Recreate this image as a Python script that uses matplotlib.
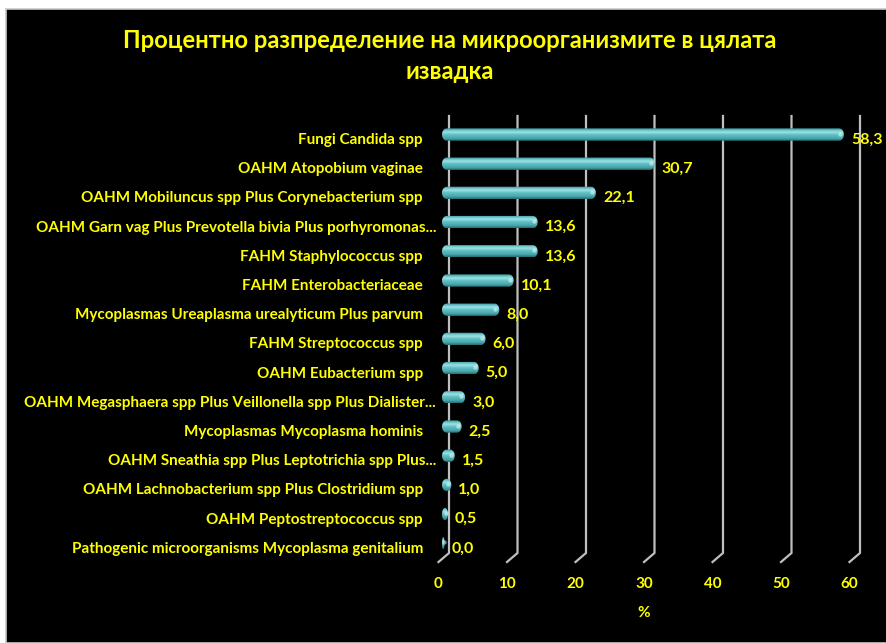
import numpy as np
import matplotlib
matplotlib.use("Agg")
import matplotlib.pyplot as plt
from matplotlib.path import Path
from matplotlib.patches import PathPatch, Rectangle
from matplotlib.colors import LinearSegmentedColormap

plt.rcParams['font.family'] = ['Lato', 'DejaVu Sans']
plt.rcParams['font.weight'] = 'bold'

title_lines = ["Процентно разпределение на микроорганизмите в цялата", "извадка"]
categories = [
    "Fungi Candida spp",
    "OAHM Atopobium vaginae",
    "OAHM Mobiluncus spp Plus Corynebacterium spp",
    "OAHM Garn vag Plus Prevotella bivia Plus porhyromonas...",
    "FAHM Staphylococcus spp",
    "FAHM Enterobacteriaceae",
    "Mycoplasmas Ureaplasma urealyticum Plus parvum",
    "FAHM Streptococcus spp",
    "OAHM Eubacterium spp",
    "OAHM Megasphaera spp Plus Veillonella spp Plus Dialister...",
    "Mycoplasmas Mycoplasma hominis",
    "OAHM Sneathia spp Plus Leptotrichia spp Plus...",
    "OAHM Lachnobacterium spp Plus Clostridium spp",
    "OAHM Peptostreptococcus spp",
    "Pathogenic microorganisms Mycoplasma genitalium",
]
values = [58.3, 30.7, 22.1, 13.6, 13.6, 10.1, 8.0, 6.0, 5.0, 3.0, 2.5, 1.5, 1.0, 0.5, 0.0]
xticks = [0, 10, 20, 30, 40, 50, 60]
xlabel = "%"

YELLOW = "#ffff00"
GRID = "#bfbfbf"
W, H = 886, 643

fig = plt.figure(figsize=(W / 100, H / 100), dpi=100, facecolor="white")

# black chart area with thin grey frame
fig.patches.append(Rectangle((6 / W, 0), 1, 1 - 8.5 / H, transform=fig.transFigure,
                             facecolor="black", edgecolor="#c8c8c8", linewidth=1.2,
                             zorder=-10))

# plot area in pixels
left, right, top, bottom = 438.5, 849.5, 116, 562
ax = fig.add_axes([left / W, 1 - bottom / H, (right - left) / W, (bottom - top) / H])
ax.set_facecolor("none")
ax.axis("off")

px_x = (right - left) / 60.0          # pixels per percent
row = 29.2                            # pixels per category
y_top = -(134.5 - top) / row
y_bot = 14 + (bottom - (134.5 + 14 * row)) / row
ax.set_xlim(0, 60)
ax.set_ylim(y_bot, y_top)

# 3D-style gridlines: back wall lines with a short slanted floor segment
dx = 10.5 / px_x
dy = 9 / row
for t in xticks:
    ax.plot([t + dx, t + dx, t], [y_top, y_bot - dy, y_bot], color=GRID, lw=1.6,
            zorder=1, solid_joinstyle="miter", clip_on=False)
    ax.annotate(str(t), (t, y_bot), xytext=(0, -26), textcoords="offset pixels",
                ha="center", va="baseline", color=YELLOW, fontsize=11)
ax.annotate(xlabel, (30, y_bot), xytext=(0, -55), textcoords="offset pixels",
            ha="center", va="baseline", color=YELLOW, fontsize=11)

# cylinder shading across the bar height (top -> bottom)
shade = LinearSegmentedColormap.from_list("cyl", [
    (0.0, "#2c7c81"), (0.15, "#66c4c9"), (0.32, "#9fe1e4"),
    (0.5, "#62c2c7"), (0.8, "#48a7ac"), (1.0, "#276c71")])
grad = np.linspace(0, 1, 64).reshape(-1, 1)

bar_h = 12.4 / row
x_start = 3.5 / px_x
end_pad = 6.0 / px_x
cap_w = 4.8 / px_x

for i, v in enumerate(values):
    x0, x1 = x_start, v + end_pad
    r = min(cap_w, (x1 - x0) / 2)
    hh = bar_h / 2
    th = np.linspace(-np.pi / 2, np.pi / 2, 30)
    right_cap = np.column_stack([x1 - r + r * np.cos(th), i + hh * np.sin(th)])
    left_cap = np.column_stack([x0 + r - r * np.cos(th), i - hh * np.sin(th)])
    verts = np.vstack([left_cap, right_cap, left_cap[:1]])
    codes = [Path.MOVETO] + [Path.LINETO] * (len(verts) - 2) + [Path.CLOSEPOLY]
    patch = PathPatch(Path(verts, codes), facecolor="none", edgecolor="none",
                      transform=ax.transData)
    ax.add_patch(patch)
    im = ax.imshow(grad, cmap=shade, aspect="auto", extent=(x0, x1, i + hh, i - hh),
                   zorder=2, interpolation="bilinear")
    im.set_clip_path(patch)
    # bright spot on the cylinder end
    ax.scatter([x1 - r * 0.8], [i - hh * 0.15], s=10, color="#e6fbfb", alpha=0.55,
               linewidths=0, zorder=3)

    ax.annotate(f"{v:.1f}".replace(".", ","), (v, i), xytext=(13, -9),
                textcoords="offset pixels", ha="left", va="baseline",
                color=YELLOW, fontsize=11.5)
    name_x = -2.5 if categories[i].endswith("...") else -15.5
    ax.annotate(categories[i], (0, i), xytext=(name_x, -9.5),
                textcoords="offset pixels", ha="right", va="baseline",
                color=YELLOW, fontsize=11)

ax.set_xlim(0, 60)
ax.set_ylim(y_bot, y_top)

fig.text(450 / W, 1 - 48.3 / H, title_lines[0], ha="center", va="baseline",
         color=YELLOW, fontsize=17.1)
fig.text(450 / W, 1 - 79 / H, title_lines[1], ha="center", va="baseline",
         color=YELLOW, fontsize=17.1)

fig.savefig("out.png", dpi=100, facecolor=fig.get_facecolor())
